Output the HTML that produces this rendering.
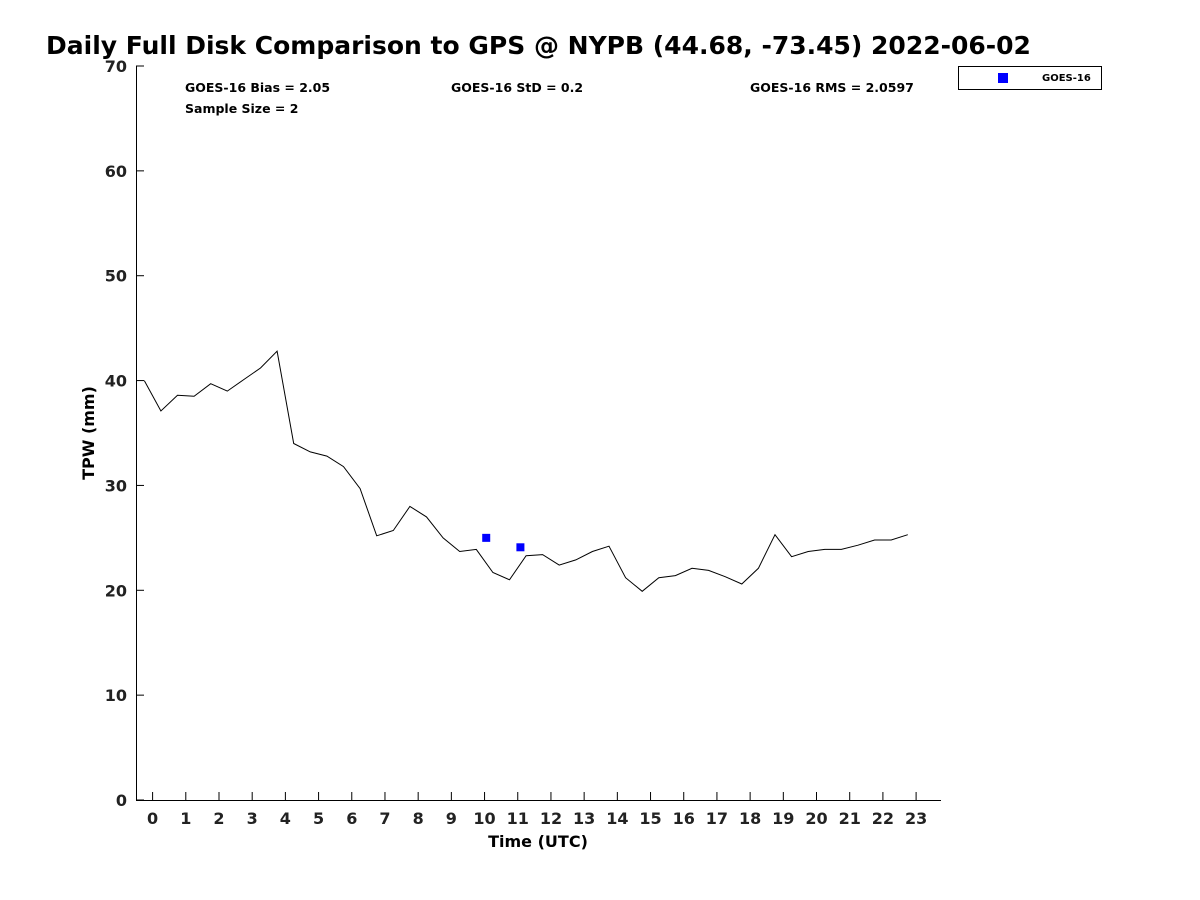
<!DOCTYPE html>
<html><head><meta charset="utf-8"><style>
body{margin:0;background:#fff;}
svg{display:block;font-family:"Liberation Sans","DejaVu Sans",sans-serif;}
</style></head><body>
<svg id="chart" width="1200" height="900">
<text x="46" y="54" font-size="25" font-weight="bold" fill="#000" font-family="DejaVu Sans, Liberation Sans, sans-serif">Daily Full Disk Comparison to GPS @ NYPB (44.68, -73.45) 2022-06-02</text>
<g id="axes"></g>
<g id="marks"></g>
<g font-size="12.5" font-weight="bold" font-family="DejaVu Sans, Liberation Sans, sans-serif">
<text x="185" y="92">GOES-16 Bias = 2.05</text>
<text x="451" y="92">GOES-16 StD = 0.2</text>
<text x="750" y="92">GOES-16 RMS = 2.0597</text>
<text x="185" y="113">Sample Size = 2</text>
</g>
<g>
<rect x="958.5" y="66.5" width="143" height="23" fill="#fff" stroke="#000" stroke-width="1"/>
<rect x="998" y="73" width="10" height="10" fill="#0000ff"/>
<text x="1042" y="81" font-size="10" font-weight="bold" font-family="DejaVu Sans, Liberation Sans, sans-serif">GOES-16</text>
</g>
<text x="538" y="847" text-anchor="middle" font-size="16" font-weight="bold" font-family="DejaVu Sans, Liberation Sans, sans-serif">Time (UTC)</text>
<text transform="translate(94,433) rotate(-90)" text-anchor="middle" font-size="16" font-weight="bold" font-family="DejaVu Sans, Liberation Sans, sans-serif">TPW (mm)</text>
</svg>
<script>
const gpsTimes=[-0.25,0.25,0.75,1.25,1.75,2.25,2.75,3.25,3.75,4.25,4.75,5.25,5.75,6.25,6.75,7.25,7.75,8.25,8.75,9.25,9.75,10.25,10.75,11.25,11.75,12.25,12.75,13.25,13.75,14.25,14.75,15.25,15.75,16.25,16.75,17.25,17.75,18.25,18.75,19.25,19.75,20.25,20.75,21.25,21.75,22.25,22.75];
const gpsValues=[40.0,37.1,38.6,38.5,39.7,39.0,40.1,41.2,42.8,34.0,33.2,32.8,31.8,29.7,25.2,25.7,28.0,27.0,25.0,23.7,23.9,21.7,21.0,23.3,23.4,22.4,22.9,23.7,24.2,21.2,19.9,21.2,21.4,22.1,21.9,21.3,20.6,22.1,25.3,23.2,23.7,23.9,23.9,24.3,24.8,24.8,25.3];
const goesTimes=[10.05,11.08];
const goesValues=[25.0,24.1];
const xTicks=[0,1,2,3,4,5,6,7,8,9,10,11,12,13,14,15,16,17,18,19,20,21,22,23];
const yTicks=[0,10,20,30,40,50,60,70];
const NS='http://www.w3.org/2000/svg';
const L=136,R=941,T=66,B=800,xMin=-0.5,xMax=23.75,yMin=0,yMax=70;
const xs=v=>L+(v-xMin)/(xMax-xMin)*(R-L);
const ys=v=>B-(v-yMin)/(yMax-yMin)*(B-T);
function mk(tag,attrs,parent){const e=document.createElementNS(NS,tag);for(const k in attrs)e.setAttribute(k,attrs[k]);parent.appendChild(e);return e;}
const ax=document.getElementById('axes'),mg=document.getElementById('marks');
let e=mk('line',{x1:L,y1:B+0.5,x2:R,y2:B+0.5,stroke:'#000'},ax);


e=mk('line',{x1:L+0.5,y1:T,x2:L+0.5,y2:B,stroke:'#000'},ax);


xTicks.forEach(t=>{
 const x=xs(t);
 mk('line',{x1:x,y1:B,x2:x,y2:B-8,stroke:'#000'},ax);
 const tx=mk('text',{x:x,y:B+24,'text-anchor':'middle','font-size':16,'font-weight':'bold','fill':'#222','font-family':'DejaVu Sans, Liberation Sans, sans-serif'},ax);
 tx.textContent=t;
 
 
});
yTicks.forEach(t=>{
 const y=ys(t);
 mk('line',{x1:L,y1:y,x2:L+8,y2:y,stroke:'#000'},ax);
 const tx=mk('text',{x:L-9,y:y+6,'text-anchor':'end','font-size':16,'font-weight':'bold','fill':'#222','font-family':'DejaVu Sans, Liberation Sans, sans-serif'},ax);
 tx.textContent=t;
 
 
});
const pts=gpsTimes.map((t,i)=>xs(t).toFixed(1)+','+ys(gpsValues[i]).toFixed(1)).join(' ');
const pl=mk('polyline',{points:pts,fill:'none',stroke:'#000','stroke-width':1},mg);


goesTimes.forEach((t,i)=>{
 const r=mk('rect',{x:xs(t)-4,y:ys(goesValues[i])-4,width:8,height:8,fill:'#0000ff'},mg);
 
 
});
</script>
</body></html>
